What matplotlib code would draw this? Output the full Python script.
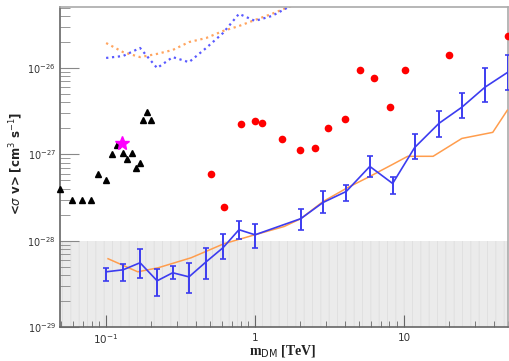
import numpy as np
import matplotlib
matplotlib.use('Agg')
import matplotlib.pyplot as plt
from matplotlib.ticker import LogLocator, NullFormatter

plt.rcParams['mathtext.fontset'] = 'dejavusans'
plt.rcParams['hatch.linewidth'] = 0.6

# ── Data ──────────────────────────────────────────────────────────────────────
# blue limit with error bars
blue_x  = [0.1, 0.13, 0.169, 0.22, 0.28, 0.36, 0.47, 0.61, 0.78, 1.0,
           2.03, 2.86, 4.1, 5.9, 8.4, 11.8, 17.2, 24.5, 35.0, 50.0]
blue_y  = [4.36e-29, 4.6e-29, 5.55e-29, 3.43e-29, 4.25e-29, 3.81e-29, 5.7e-29,
           8.3e-29, 1.34e-28, 1.17e-28, 1.8e-28, 2.77e-28, 3.72e-28, 7.25e-28,
           4.6e-28, 1.2e-27, 2.29e-27, 3.52e-27, 6.0e-27, 8.98e-27]
blue_hi = [4.85e-29, 5.4e-29, 8.07e-29, 4.72e-29, 5.12e-29, 5.55e-29, 8.3e-29,
           1.2e-28, 1.71e-28, 1.58e-28, 2.36e-28, 3.72e-28, 4.36e-28, 9.5e-28,
           5.4e-28, 1.71e-27, 3.16e-27, 5.12e-27, 1.0e-26, 1.42e-26]
blue_lo = [3.43e-29, 3.43e-29, 3.72e-29, 2.29e-29, 3.61e-29, 2.48e-29, 3.61e-29,
           6.18e-29, 1.05e-28, 8.3e-29, 1.34e-28, 2.12e-28, 2.92e-28, 5.4e-28,
           3.43e-28, 8.75e-28, 1.58e-27, 2.62e-27, 4.02e-27, 5.55e-27]

# orange solid curve
orange_x = [0.103, 0.163, 0.223, 0.372, 0.619, 1.05, 1.57, 2.03, 2.86, 4.2,
            5.9, 8.4, 10.6, 15.7, 24.5, 39.5, 49.5]
orange_y = [6.18e-29, 4.36e-29, 4.85e-29, 6.34e-29, 9.23e-29, 1.2e-28, 1.46e-28,
            1.8e-28, 2.84e-28, 4.13e-28, 5.55e-28, 7.66e-28, 9.5e-28, 9.5e-28,
            1.53e-27, 1.8e-27, 3.25e-27]

# dotted curves at the top
dot_x        = [0.1, 0.13, 0.169, 0.22, 0.28, 0.36, 0.47, 0.61, 0.78, 1.0,
                1.3, 1.69, 2.2]
dot_blue_y   = [1.31e-26, 1.38e-26, 1.71e-26, 1.0e-26, 1.34e-26, 1.17e-26,
                1.71e-26, 2.55e-26, 4.25e-26, 3.52e-26, 4.02e-26, 5.12e-26, 6.5e-26]
dot_orange_y = [1.95e-26, 1.53e-26, 1.34e-26, 1.46e-26, 1.62e-26, 2.0e-26,
                2.23e-26, 2.69e-26, 3.07e-26, 3.61e-26, 4.25e-26, 5.12e-26, 6.2e-26]

# black triangles
tri_x = [0.049, 0.0591, 0.069, 0.079, 0.0884, 0.1, 0.1097, 0.1186, 0.130,
         0.1384, 0.149, 0.159, 0.169, 0.177, 0.188, 0.200]
tri_y = [4.02e-28, 3.0e-28, 3.0e-28, 3.0e-28, 6.0e-28, 4.99e-28, 1.0e-27,
         1.27e-27, 1.03e-27, 8.75e-28, 1.03e-27, 6.87e-28, 7.85e-28, 2.48e-27,
         3.07e-27, 2.48e-27]

# magenta star
star_x = [0.128]
star_y = [1.34e-27]

# red dots
red_x = [0.507, 0.619, 0.805, 1.0, 1.114, 1.52, 2.0, 2.53, 3.09, 4.02,
         5.07, 6.29, 8.06, 10.2, 20.0, 49.9]
red_y = [6.0e-28, 2.48e-28, 2.23e-27, 2.42e-27, 2.29e-27, 1.49e-27, 1.11e-27,
         1.2e-27, 2.0e-27, 2.55e-27, 9.5e-27, 7.66e-27, 3.52e-27, 9.5e-27,
         1.42e-26, 2.36e-26]

XMIN, XMAX = 0.049, 50.0
YMIN, YMAX = 1e-29, 5.1e-26
SHADE_TOP = 1e-28


def main():
    fig = plt.figure(figsize=(5.1, 3.61), dpi=100)
    ax = fig.add_axes([60 / 510, 34 / 361, 448 / 510, 320 / 361])
    ax.set_xscale('log')
    ax.set_yscale('log')
    ax.set_xlim(XMIN, XMAX)
    ax.set_ylim(YMIN, YMAX)

    # shaded excluded band
    ax.fill_between([XMIN, XMAX], YMIN, SHADE_TOP, facecolor='#ebebeb',
                    edgecolor='#dedede', hatch='||', linewidth=0, zorder=0)

    # dotted curves
    ax.plot(dot_x, dot_orange_y, ls=':', color='#ffa560', lw=1.6, zorder=2)
    ax.plot(dot_x, dot_blue_y, ls=':', color='#5a5aff', lw=1.6, zorder=2)

    # orange solid
    ax.plot(orange_x, orange_y, color='#ff9d4d', lw=1.1, zorder=3)

    # blue with error bars
    by = np.array(blue_y)
    yerr = [by - np.array(blue_lo), np.array(blue_hi) - by]
    ax.errorbar(blue_x, blue_y, yerr=yerr, color='#3c3cf0', lw=1.2,
                elinewidth=1.4, capsize=2, capthick=1.2, zorder=4)

    # markers
    ax.plot(tri_x, tri_y, ls='none', marker='^', color='black', ms=5,
            zorder=5, clip_on=False)
    ax.plot(star_x, star_y, ls='none', marker='*', color='#ff00ff', ms=10,
            zorder=6)
    ax.plot(red_x, red_y, ls='none', marker='o', color='#ff0000', ms=5.5,
            mec='none', zorder=5, clip_on=False)

    # ticks
    ax.set_xticks([0.1, 1, 10])
    ax.set_xticklabels([r'$10^{-1}$', '1', '10'])
    ax.set_yticks([1e-29, 1e-28, 1e-27, 1e-26])
    ax.set_yticklabels([r'$10^{-29}$', r'$10^{-28}$', r'$10^{-27}$', r'$10^{-26}$'])
    ax.xaxis.set_minor_locator(LogLocator(base=10, subs=np.arange(2, 10)))
    ax.yaxis.set_minor_locator(LogLocator(base=10, subs=np.arange(2, 10)))
    ax.xaxis.set_minor_formatter(NullFormatter())
    ax.yaxis.set_minor_formatter(NullFormatter())
    ax.tick_params(axis='x', which='major', direction='in', length=9,
                   color='#666666', labelsize=7.5, labelcolor='#333333', pad=4)
    ax.tick_params(axis='x', which='minor', direction='in', length=4,
                   color='#666666')
    ax.tick_params(axis='y', which='major', direction='in', length=14,
                   color='#888888', labelsize=7, labelcolor='#333333', pad=3)
    ax.tick_params(axis='y', which='minor', direction='in', length=7,
                   color='#888888')

    for side in ('left', 'bottom'):
        ax.spines[side].set_color('#666666')
        ax.spines[side].set_linewidth(1.2)
    for side in ('top', 'right'):
        ax.spines[side].set_color('#aaaaaa')
        ax.spines[side].set_linewidth(1.2)

    # axis titles
    fig.text(16 / 510, 1 - 163 / 361, r'<$\sigma$ v> [cm$^{3}$ s$^{-1}$]',
             rotation=90, ha='center', va='center', fontsize=8.5,
             fontweight='bold', color='#222222')
    fig.text(283 / 510, 1 - 351 / 361, r'm$_{\rm DM}$ [TeV]',
             ha='center', va='center', fontsize=10, fontweight='bold',
             family='Liberation Serif', color='#222222')

    fig.savefig('out.png', dpi=100)
    plt.close(fig)


if __name__ == '__main__':
    main()
